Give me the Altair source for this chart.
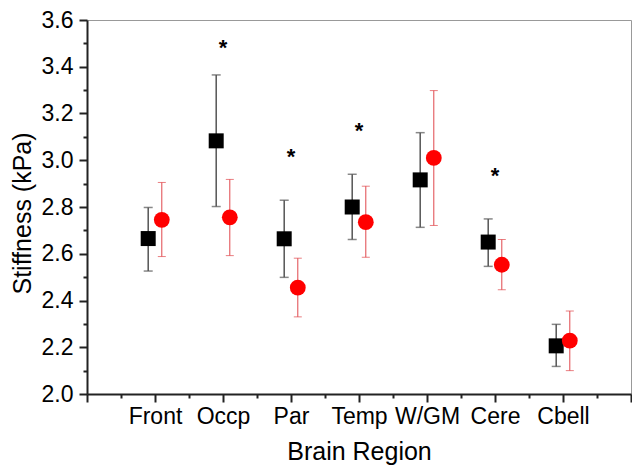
import altair as alt
import pandas as pd

regions = ["Front", "Occp", "Par", "Temp", "W/GM", "Cere", "Cbell"]
black_mean = [2.665, 3.083, 2.664, 2.800, 2.916, 2.650, 2.206]
black_hi = [2.798, 3.365, 2.829, 2.940, 3.118, 2.749, 2.298]
black_lo = [2.526, 2.802, 2.499, 2.661, 2.713, 2.546, 2.118]
red_mean = [2.745, 2.756, 2.455, 2.735, 3.010, 2.553, 2.228]
red_hi = [2.905, 2.918, 2.581, 2.889, 3.298, 2.661, 2.355]
red_lo = [2.588, 2.592, 2.330, 2.585, 2.721, 2.446, 2.100]
star_regions = ["Occp", "Par", "Temp", "Cere"]
star_y = [3.505, 3.037, 3.149, 2.958]

OFF = 0.1
FONT = "Liberation Sans"


def series_df(mean, lo, hi, off):
    return pd.DataFrame({
        "region": regions,
        "x": [i + 1 + off for i in range(len(regions))],
        "mean": mean, "lo": lo, "hi": hi,
    })


def caps_df(lo, hi, off):
    rows = []
    for i, r in enumerate(regions):
        rows.append({"region": r, "x": i + 1 + off, "v": lo[i]})
        rows.append({"region": r, "x": i + 1 + off, "v": hi[i]})
    return pd.DataFrame(rows)


black = series_df(black_mean, black_lo, black_hi, -OFF)
red = series_df(red_mean, red_lo, red_hi, OFF)
black_caps = caps_df(black_lo, black_hi, -OFF)
red_caps = caps_df(red_lo, red_hi, OFF)
stars = pd.DataFrame({
    "x": [regions.index(r) + 1 for r in star_regions],
    "y": star_y,
})

label_arr = "[" + ",".join(["''"] + [f"'{r}'" for r in regions] + ["''"]) + "]"

xaxis = alt.Axis(
    values=[i * 0.5 for i in range(17)],
    labelExpr=f"datum.value % 1 == 0 ? {label_arr}[datum.value] : ''",
    tickSize={"condition": {"test": "datum.value % 1 == 0", "value": 8}, "value": 4},
    grid=False, labelFont=FONT, labelFontSize=23, labelColor="black",
    labelPadding=3, labelOverlap=False, labelFlush=False,
    titleFont=FONT, titleFontSize=25, titleFontWeight="normal", titleColor="black",
    titleY=45,
    domainColor="#222", domainWidth=2, tickColor="#222", tickWidth=2,
)
major_y = "abs(datum.value*5 - round(datum.value*5)) < 0.001"
yaxis = alt.Axis(
    values=[round(2.0 + 0.1 * i, 1) for i in range(17)],
    labelExpr=f"{major_y} ? format(datum.value, '.1f') : ''",
    tickSize={"condition": {"test": major_y, "value": 8}, "value": 4},
    grid=False, labelFont=FONT, labelFontSize=23, labelColor="black",
    labelPadding=6, labelOverlap=False, labelFlush=False,
    titleFont=FONT, titleFontSize=25, titleFontWeight="normal", titleColor="black",
    titleX=-52, titleY=193,
    domainColor="#222", domainWidth=2, tickColor="#222", tickWidth=2,
)
xscale = alt.Scale(domain=[0, 8], nice=False, zero=False)
yscale = alt.Scale(domain=[2.0, 3.6], nice=False, zero=False)


def X(f):
    return alt.X(f"{f}:Q", scale=xscale, axis=xaxis, title="Brain Region")


def Y(f):
    return alt.Y(f"{f}:Q", scale=yscale, axis=yaxis, title="Stiffness (kPa)")


def layers(df, caps, bar_color, bar_w, cap_len, point_mark):
    rule = alt.Chart(df).mark_rule(color=bar_color, strokeWidth=bar_w).encode(
        x=X("x"), y=Y("lo"), y2="hi")
    cap = alt.Chart(caps).mark_tick(orient="horizontal", color=bar_color,
                                    size=cap_len, thickness=bar_w).encode(
        x=X("x"), y=Y("v"))
    pts = alt.Chart(df).mark_point(**point_mark).encode(x=X("x"), y=Y("mean"))
    return [rule, cap, pts]


black_layers = layers(black, black_caps, "#555555", 1.5, 9,
                      dict(shape="square", filled=True, size=225, color="black", opacity=1))
red_layers = layers(red, red_caps, "#e0474c", 1, 8,
                    dict(shape="circle", filled=True, size=250, color="#ff0000", opacity=1))

star_layer = alt.Chart(stars).mark_text(
    text="*", font=FONT, fontSize=22, fontWeight="bold", color="black",
    baseline="alphabetic", dy=12.5
).encode(x=X("x"), y=Y("y"))

chart = alt.layer(*black_layers, *red_layers, star_layer).properties(
    width=544, height=374,
    padding={"left": 79, "top": 12, "right": 1, "bottom": 72},
    autosize=alt.AutoSizeParams(type="none"),
).configure_view(stroke="#999999", strokeWidth=1)

chart.save("out.html", embed_options={"renderer": "svg", "actions": False})
